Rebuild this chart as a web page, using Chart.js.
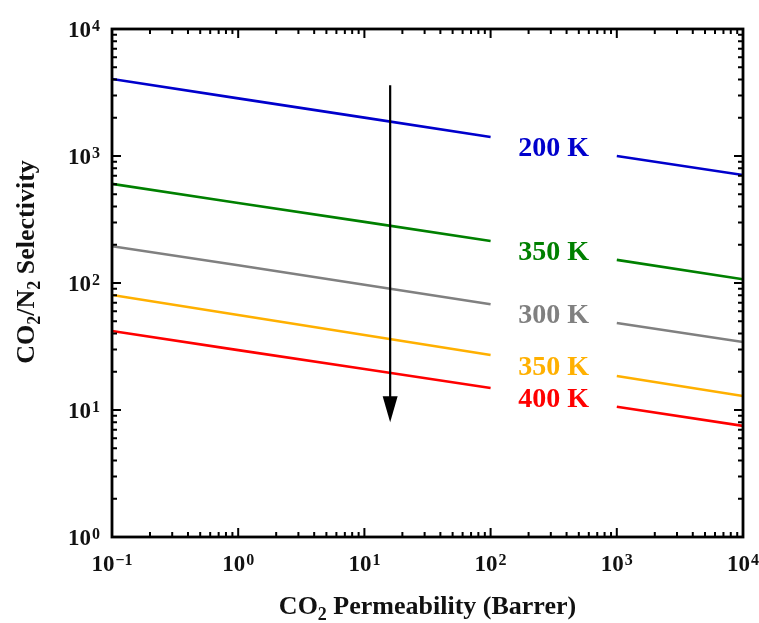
<!DOCTYPE html>
<html>
<head>
<meta charset="utf-8">
<script src="https://cdn.jsdelivr.net/npm/chart.js@4"></script>
<style>
html,body{margin:0;padding:0;background:#fff;}
#wrap{width:759px;height:623px;position:relative;}
</style>
</head>
<body>
<div id="wrap"><canvas id="c"></canvas></div>
<script>
// ---- data ----
const xValues = [0.1, 1, 10, 100, 1000, 10000];
const gapAfterIndex = 3;            // line is broken between 100 and 1000 (label sits there)
const seriesLabels = ['200 K', '350 K', '300 K', '350 K', '400 K'];
const seriesColors = ['#0000cc', '#008000', '#808080', '#ffb000', '#ff0000'];
const sel200K = [4036, 2844, 2004, 1413, 1000, 708];
const sel350Kgreen = [603, 427, 303, 214, 152, 107];
const sel300K = [195, 138, 97, 68, 48.4, 34.3];
const sel350Korange = [80.5, 56, 39, 27.1, 18.5, 12.9];
const sel400K = [41.9, 29.6, 21, 14.9, 10.6, 7.5];
const seriesValues = [sel200K, sel350Kgreen, sel300K, sel350Korange, sel400K];
const xTickValues = [0.1, 1, 10, 100, 1000, 10000];
const xTickExponents = ['\u22121', '0', '1', '2', '3', '4'];
const yTickValues = [1, 10, 100, 1000, 10000];
const yTickExponents = ['0', '1', '2', '3', '4'];
const arrowX = 16, arrowYStart = 3600, arrowYEnd = 8;
const xTitle = ['CO', '2', ' Permeability (Barrer)'];
const yTitle = ['CO', '2', '/N', '2', ' Selectivity'];

const FONT = '"Liberation Serif", "Times New Roman", serif';

function buildData(vals) {
  const pts = [];
  vals.forEach((v, i) => {
    pts.push({x: xValues[i], y: v});
    if (i === gapAfterIndex) pts.push({x: Math.sqrt(xValues[i] * xValues[i + 1]), y: null});
  });
  return pts;
}

const datasets = seriesValues.map((vals, k) => ({
  label: seriesLabels[k],
  data: buildData(vals),
  borderColor: seriesColors[k],
  backgroundColor: seriesColors[k],
  borderWidth: 2.6,
  pointRadius: 0,
  fill: false,
  spanGaps: false,
  tension: 0
}));

function drawSupText(ctx, base, exp, x, y, align) {
  ctx.font = 'bold 23px ' + FONT;
  const wb = ctx.measureText(base).width;
  ctx.font = 'bold 16px ' + FONT;
  const we = ctx.measureText(exp).width;
  const total = wb + we + 1;
  let x0 = x;
  if (align === 'center') x0 = x - total / 2;
  else if (align === 'right') x0 = x - total;
  ctx.textAlign = 'left';
  ctx.textBaseline = 'alphabetic';
  ctx.font = 'bold 23px ' + FONT;
  ctx.fillText(base, x0, y);
  ctx.font = 'bold 16px ' + FONT;
  ctx.fillText(exp, x0 + wb + 1, y - 6);
}

function drawSubTitle(ctx, parts, x, y, size) {
  // parts alternate normal / subscript
  let w = 0;
  parts.forEach((p, i) => {
    ctx.font = 'bold ' + (i % 2 ? Math.round(size * 0.68) : size) + 'px ' + FONT;
    w += ctx.measureText(p).width;
  });
  let cx = x - w / 2;
  ctx.textAlign = 'left';
  ctx.textBaseline = 'alphabetic';
  parts.forEach((p, i) => {
    const sub = i % 2 === 1;
    ctx.font = 'bold ' + (sub ? Math.round(size * 0.68) : size) + 'px ' + FONT;
    ctx.fillText(p, cx, y + (sub ? 6 : 0));
    cx += ctx.measureText(p).width;
  });
}

const framePlugin = {
  id: 'frame',
  afterDatasetsDraw(chart) {
    const ctx = chart.ctx;
    const xs = chart.scales.x, ys = chart.scales.y;
    const a = chart.chartArea;
    ctx.save();
    // frame
    ctx.strokeStyle = '#000';
    ctx.lineWidth = 2.8;
    ctx.strokeRect(a.left, a.top, a.right - a.left, a.bottom - a.top);
    // ticks
    ctx.lineWidth = 2;
    const majorLen = 9, minorLen = 5;
    function xTick(v, len) {
      const px = xs.getPixelForValue(v);
      ctx.beginPath();
      ctx.moveTo(px, a.bottom); ctx.lineTo(px, a.bottom - len);
      ctx.moveTo(px, a.top); ctx.lineTo(px, a.top + len);
      ctx.stroke();
    }
    function yTick(v, len) {
      const py = ys.getPixelForValue(v);
      ctx.beginPath();
      ctx.moveTo(a.left, py); ctx.lineTo(a.left + len, py);
      ctx.moveTo(a.right, py); ctx.lineTo(a.right - len, py);
      ctx.stroke();
    }
    xTickValues.forEach((v, i) => {
      if (i > 0 && i < xTickValues.length - 1) xTick(v, majorLen);
      if (i < xTickValues.length - 1) for (let m = 2; m <= 9; m++) xTick(v * m, minorLen);
    });
    yTickValues.forEach((v, i) => {
      if (i > 0 && i < yTickValues.length - 1) yTick(v, majorLen);
      if (i < yTickValues.length - 1) for (let m = 2; m <= 9; m++) yTick(v * m, minorLen);
    });
    // tick labels
    ctx.fillStyle = '#111';
    xTickValues.forEach((v, i) => {
      drawSupText(ctx, '10', xTickExponents[i], xs.getPixelForValue(v), a.bottom + 34, 'center');
    });
    yTickValues.forEach((v, i) => {
      drawSupText(ctx, '10', yTickExponents[i], a.left - 12, ys.getPixelForValue(v) + 8, 'right');
    });
    // axis titles
    drawSubTitle(ctx, xTitle, (a.left + a.right) / 2, a.bottom + 77, 26);
    ctx.save();
    ctx.translate(34, 262);
    ctx.rotate(-Math.PI / 2);
    drawSubTitle(ctx, yTitle, 0, 0, 26);
    ctx.restore();
    // series labels in the gaps
    ctx.font = 'bold 28px ' + FONT;
    ctx.textAlign = 'center';
    ctx.textBaseline = 'alphabetic';
    seriesValues.forEach((vals, k) => {
      const x1 = xValues[gapAfterIndex], x2 = xValues[gapAfterIndex + 1];
      const px = (xs.getPixelForValue(x1) + xs.getPixelForValue(x2)) / 2;
      const py = (ys.getPixelForValue(vals[gapAfterIndex]) + ys.getPixelForValue(vals[gapAfterIndex + 1])) / 2;
      ctx.fillStyle = seriesColors[k];
      ctx.fillText(seriesLabels[k], px, py + 9.5);
    });
    // arrow
    const ax = xs.getPixelForValue(arrowX);
    const ay1 = ys.getPixelForValue(arrowYStart);
    const ay2 = ys.getPixelForValue(arrowYEnd);
    ctx.strokeStyle = '#000';
    ctx.fillStyle = '#000';
    ctx.lineWidth = 2.2;
    ctx.beginPath();
    ctx.moveTo(ax, ay1); ctx.lineTo(ax, ay2 - 20);
    ctx.stroke();
    ctx.beginPath();
    ctx.moveTo(ax - 7.5, ay2 - 26);
    ctx.lineTo(ax + 7.5, ay2 - 26);
    ctx.lineTo(ax, ay2);
    ctx.closePath();
    ctx.fill();
    ctx.restore();
  }
};

new Chart(document.getElementById('c'), {
  type: 'line',
  data: { datasets },
  options: {
    responsive: true,
    maintainAspectRatio: false,
    animation: false,
    layout: { padding: { left: 112, top: 29, right: 16, bottom: 86 } },
    plugins: { legend: { display: false }, tooltip: { enabled: false } },
    scales: {
      x: { type: 'logarithmic', min: 0.1, max: 10000, display: false },
      y: { type: 'logarithmic', min: 1, max: 10000, display: false }
    }
  },
  plugins: [framePlugin]
});
</script>
</body>
</html>
